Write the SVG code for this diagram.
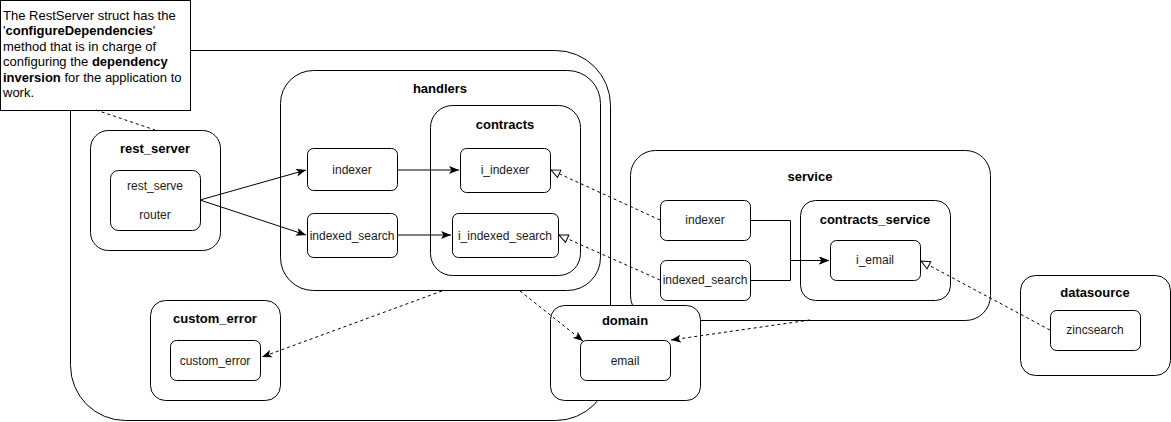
<svg xmlns="http://www.w3.org/2000/svg" width="1171" height="422" viewBox="0 0 1171 422">
<style>
.c{fill:#fff;stroke:#000;stroke-width:1}
.t{font-family:"Liberation Sans",Arial,sans-serif;font-size:13px;font-weight:bold;fill:#000;text-anchor:middle}
.l{font-family:"Liberation Sans",Arial,sans-serif;font-size:12px;fill:#1a1a1a;text-anchor:middle}
.n{font-family:"Liberation Sans",Arial,sans-serif;font-size:13px;fill:#000}
.s{fill:none;stroke:#000;stroke-width:1}
.d{fill:none;stroke:#000;stroke-width:1;stroke-dasharray:3,3}
</style>
<defs>
<marker id="arr" viewBox="0 0 10 8" refX="10" refY="4" markerWidth="10" markerHeight="8" markerUnits="userSpaceOnUse" orient="auto">
<path d="M0,0 L10,4 L0,8 L2.5,4 Z" fill="#000"/>
</marker>
<marker id="tri" viewBox="-1 -1 11 10" refX="9" refY="4" markerWidth="11" markerHeight="10" markerUnits="userSpaceOnUse" orient="auto">
<path d="M0,0 L9,4 L0,8 Z" fill="#fff" stroke="#000" stroke-width="1"/>
</marker>
</defs>

<g id="outer"><rect class="c" x="70.5" y="50.5" width="540" height="370" rx="55"/></g>

<g id="note">
<rect x="0.5" y="0.5" width="190" height="110" fill="#fff" stroke="#000"/>
<text class="n" x="3" y="20">The RestServer struct has the</text>
<text class="n" x="3" y="35">'<tspan font-weight="bold">configureDependencies</tspan>'</text>
<text class="n" x="3" y="51">method that is in charge of</text>
<text class="n" x="3" y="66">configuring the <tspan font-weight="bold">dependency</tspan></text>
<text class="n" x="3" y="82"><tspan font-weight="bold">inversion</tspan> for the application to</text>
<text class="n" x="3" y="97">work.</text>
</g>

<g id="handlers">
<rect class="c" x="280.5" y="70.5" width="320" height="220" rx="33"/>
<text class="t" x="440" y="93">handlers</text>
</g>
<g id="contracts">
<rect class="c" x="430.5" y="105.5" width="150" height="170" rx="22"/>
<text class="t" x="505" y="129">contracts</text>
</g>
<g id="h_indexer"><rect class="c" x="307.5" y="148.5" width="90" height="42" rx="6"/><text class="l" x="352" y="174">indexer</text></g>
<g id="h_indexed_search"><rect class="c" x="307.5" y="213.5" width="90" height="44" rx="6"/><text class="l" x="352" y="240">indexed_search</text></g>
<g id="i_indexer"><rect class="c" x="460.5" y="148.5" width="90" height="44" rx="6"/><text class="l" x="505" y="174">i_indexer</text></g>
<g id="i_indexed_search"><rect class="c" x="452.5" y="213.5" width="106" height="44" rx="6"/><text class="l" x="505" y="240">i_indexed_search</text></g>

<g id="rest_server">
<rect class="c" x="90.5" y="130.5" width="130" height="120" rx="18"/>
<text class="t" x="155" y="153">rest_server</text>
</g>
<g id="rest_serve"><rect class="c" x="110.5" y="170.5" width="90" height="60" rx="8"/><text class="l" x="155" y="190">rest_serve</text><text class="l" x="155" y="219">router</text></g>

<g id="custom_error_pkg">
<rect class="c" x="150.5" y="300.5" width="130" height="100" rx="15"/>
<text class="t" x="215" y="323">custom_error</text>
</g>
<g id="custom_error"><rect class="c" x="170.5" y="340.5" width="90" height="40" rx="6"/><text class="l" x="215" y="365">custom_error</text></g>

<g id="service">
<rect class="c" x="630.5" y="150.5" width="360" height="170" rx="25"/>
<text class="t" x="810" y="181">service</text>
</g>
<g id="s_indexer"><rect class="c" x="660.5" y="200.5" width="90" height="40" rx="6"/><text class="l" x="705" y="224">indexer</text></g>
<g id="s_indexed_search"><rect class="c" x="660.5" y="260.5" width="90" height="40" rx="6"/><text class="l" x="705" y="284">indexed_search</text></g>
<g id="contracts_service">
<rect class="c" x="800.5" y="200.5" width="150" height="100" rx="15"/>
<text class="t" x="875" y="224">contracts_service</text>
</g>
<g id="i_email"><rect class="c" x="830.5" y="240.5" width="90" height="40" rx="6"/><text class="l" x="875" y="264">i_email</text></g>

<g id="domain">
<rect class="c" x="550.5" y="305.5" width="150" height="95" rx="14"/>
<text class="t" x="625" y="325">domain</text>
</g>
<g id="email"><rect class="c" x="580.5" y="340.5" width="90" height="40" rx="6"/><text class="l" x="625" y="365">email</text></g>

<g id="datasource">
<rect class="c" x="1020.5" y="275.5" width="150" height="100" rx="15"/>
<text class="t" x="1095" y="297">datasource</text>
</g>
<g id="zincsearch"><rect class="c" x="1050.5" y="310.5" width="90" height="40" rx="6"/><text class="l" x="1095" y="334">zincsearch</text></g>

<g id="connectors">
<path class="d" d="M96,110 L155,130"/>
<path class="s" d="M200,200 L306,170" marker-end="url(#arr)"/>
<path class="s" d="M200,200 L306,235" marker-end="url(#arr)"/>
<path class="s" d="M397,170 L459,170" marker-end="url(#arr)"/>
<path class="s" d="M397,235 L451,235" marker-end="url(#arr)"/>
<path class="d" d="M660,220 L551,170" marker-end="url(#tri)"/>
<path class="d" d="M660,280 L559,235" marker-end="url(#tri)"/>
<path class="s" d="M750.5,220.5 H790.5 V260.5 H829" marker-end="url(#arr)"/>
<path class="s" d="M750.5,280.5 H790.5 V260.5 H829" marker-end="url(#arr)"/>
<path class="d" d="M1050,330 L921,261" marker-end="url(#tri)"/>
<path class="d" d="M810,320 L671,340" marker-end="url(#arr)"/>
<path class="d" d="M520,291 L583,341" marker-end="url(#arr)"/>
<path class="d" d="M442,291 L262,357" marker-end="url(#arr)"/>
</g>
</svg>
